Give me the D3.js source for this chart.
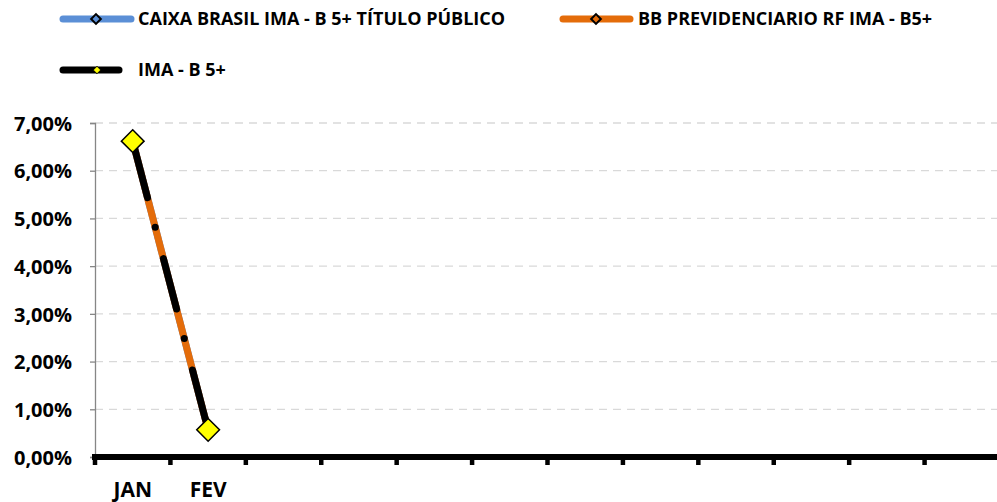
<!DOCTYPE html>
<html>
<head>
<meta charset="utf-8">
<script src="https://cdn.jsdelivr.net/npm/d3@7"></script>
<style>
  body { margin: 0; background: #fff; }
  text { font-family: "Open Sans", sans-serif; font-weight: bold; fill: #000; }
</style>
</head>
<body>
<div id="chart"></div>
<script>
// categories (only the first two carry a label in the original)
var months = ["JAN", "FEV", "m3", "m4", "m5", "m6", "m7", "m8", "m9", "m10", "m11", "m12"]
var monthLabels = ["JAN", "FEV", "", "", "", "", "", "", "", "", "", ""]
var yTicks = [0, 0.01, 0.02, 0.03, 0.04, 0.05, 0.06, 0.07]

// series values (only JAN and FEV reported)
var caixa = [0.0662, 0.0057]
var bb = [0.0662, 0.0057]
var imab5 = [0.0662, 0.0057]

var seriesNames = ["CAIXA BRASIL IMA - B 5+ TÍTULO PÚBLICO", "BB PREVIDENCIARIO RF IMA - B5+", "IMA - B 5+"]

var W = 997, H = 502
var margin = {top: 123, right: 0, bottom: 45, left: 95}
var width = 1000 - margin.left,
    height = H - margin.top - margin.bottom

var svg = d3.select("#chart").append("svg")
  .attr("width", W)
  .attr("height", H)

var g = svg.append("g")
  .attr("transform", "translate(" + margin.left + "," + margin.top + ")")

var x = d3.scaleBand()
  .domain(months)
  .range([0, width])

var y = d3.scaleLinear()
  .domain([0, 0.07])
  .range([height, 0])

var fmt = function(v) { return (v * 100).toFixed(2).replace(".", ",") + "%" }

// gridlines
g.append("g")
  .selectAll("line")
  .data(yTicks.filter(function(d) { return d > 0 }))
  .enter().append("line")
    .attr("x1", 0)
    .attr("x2", W)
    .attr("y1", function(d) { return y(d) })
    .attr("y2", function(d) { return y(d) })
    .attr("stroke", "#d9d9d9")
    .attr("stroke-width", 1.3)
    .attr("stroke-dasharray", "8 6")

// y axis
var yAxis = g.append("g")
  .call(d3.axisLeft(y).tickValues(yTicks).tickFormat(fmt).tickSize(5).tickPadding(18))
yAxis.select(".domain").attr("stroke", "#868686").attr("stroke-width", 1.3)
yAxis.selectAll(".tick line").attr("stroke", "#868686").attr("stroke-width", 1.3)
yAxis.selectAll(".tick text").style("font-size", "20px").attr("dy", "0.36em")

// x axis: ticks between categories, thick baseline
var xAxis = g.append("g")
  .attr("transform", "translate(0," + height + ")")
xAxis.selectAll("line.tick")
  .data(months)
  .enter().append("line")
    .attr("class", "tick")
    .attr("x1", function(d) { return x(d) })
    .attr("x2", function(d) { return x(d) })
    .attr("y1", 0)
    .attr("y2", 8)
    .attr("stroke", "#000")
    .attr("stroke-width", 4.5)
xAxis.append("line")
  .attr("x1", -3)
  .attr("x2", W)
  .attr("y1", 0)
  .attr("y2", 0)
  .attr("stroke", "#000")
  .attr("stroke-width", 6)
xAxis.selectAll("text")
  .data(months)
  .enter().append("text")
    .attr("x", function(d) { return x(d) + x.bandwidth() / 2 })
    .attr("y", 40)
    .attr("text-anchor", "middle")
    .style("font-size", "21px")
    .text(function(d, i) { return monthLabels[i] })

var line = d3.line()
  .x(function(d, i) { return x(months[i]) + x.bandwidth() / 2 })
  .y(function(d) { return y(d) })

function diamond(sel, size) {
  return sel.attr("d", d3.symbol().type(d3.symbolDiamond2).size(size))
}

// CAIXA (blue)
g.append("path").datum(caixa)
  .attr("d", line).attr("fill", "none")
  .attr("stroke", "#5b8fd6").attr("stroke-width", 7).attr("stroke-linecap", "round")
// BB (orange)
g.append("path").datum(bb)
  .attr("d", line).attr("fill", "none")
  .attr("stroke", "#e46c0a").attr("stroke-width", 7).attr("stroke-linecap", "round")
// IMA-B 5+ (black long dash dot)
g.append("path").datum(imab5)
  .attr("d", line).attr("fill", "none")
  .attr("stroke", "#000").attr("stroke-width", 7).attr("stroke-linecap", "round")
  .attr("stroke-dasharray", "52 30.5 0 32.5")
  .attr("stroke-dashoffset", 108.5)

g.selectAll("path.mk")
  .data(imab5)
  .enter().append("path")
    .attr("class", "mk")
    .call(diamond, 330)
    .attr("transform", function(d, i) { return "translate(" + (x(months[i]) + x.bandwidth() / 2) + "," + y(d) + ")" })
    .attr("fill", "#ffff00")
    .attr("stroke", "#000")
    .attr("stroke-width", 1.5)

// legend
var legendItems = [
  {name: seriesNames[0], color: "#5b8fd6", x: 60, y: 19, len: 74, mk: "none", mkSize: 60, mx: 96},
  {name: seriesNames[1], color: "#e46c0a", x: 560, y: 19, len: 73, mk: "none", mkSize: 60, mx: 596},
  {name: seriesNames[2], color: "#000", x: 60, y: 70, len: 62, mk: "#ffff00", mkSize: 36, mx: 97}
]
var legend = svg.selectAll(".legend")
  .data(legendItems)
  .enter().append("g")
    .attr("class", "legend")

legend.append("line")
  .attr("x1", function(d) { return d.x + 3 })
  .attr("x2", function(d) { return d.x + d.len - 3 })
  .attr("y1", function(d) { return d.y })
  .attr("y2", function(d) { return d.y })
  .attr("stroke", function(d) { return d.color })
  .attr("stroke-width", 7)
  .attr("stroke-linecap", "round")

legend.append("path")
  .each(function(d) { d3.select(this).call(diamond, d.mkSize) })
  .attr("transform", function(d) { return "translate(" + d.mx + "," + d.y + ")" })
  .attr("fill", function(d) { return d.mk })
  .attr("stroke", "#000")
  .attr("stroke-width", function(d) { return d.mk == "none" ? 2 : 1 })

legend.append("text")
  .attr("x", function(d) { return d.x + 78 })
  .attr("y", function(d) { return d.y })
  .attr("dy", "0.36em")
  .style("font-size", "18px")
  .text(function(d) { return d.name })
</script>
</body>
</html>
